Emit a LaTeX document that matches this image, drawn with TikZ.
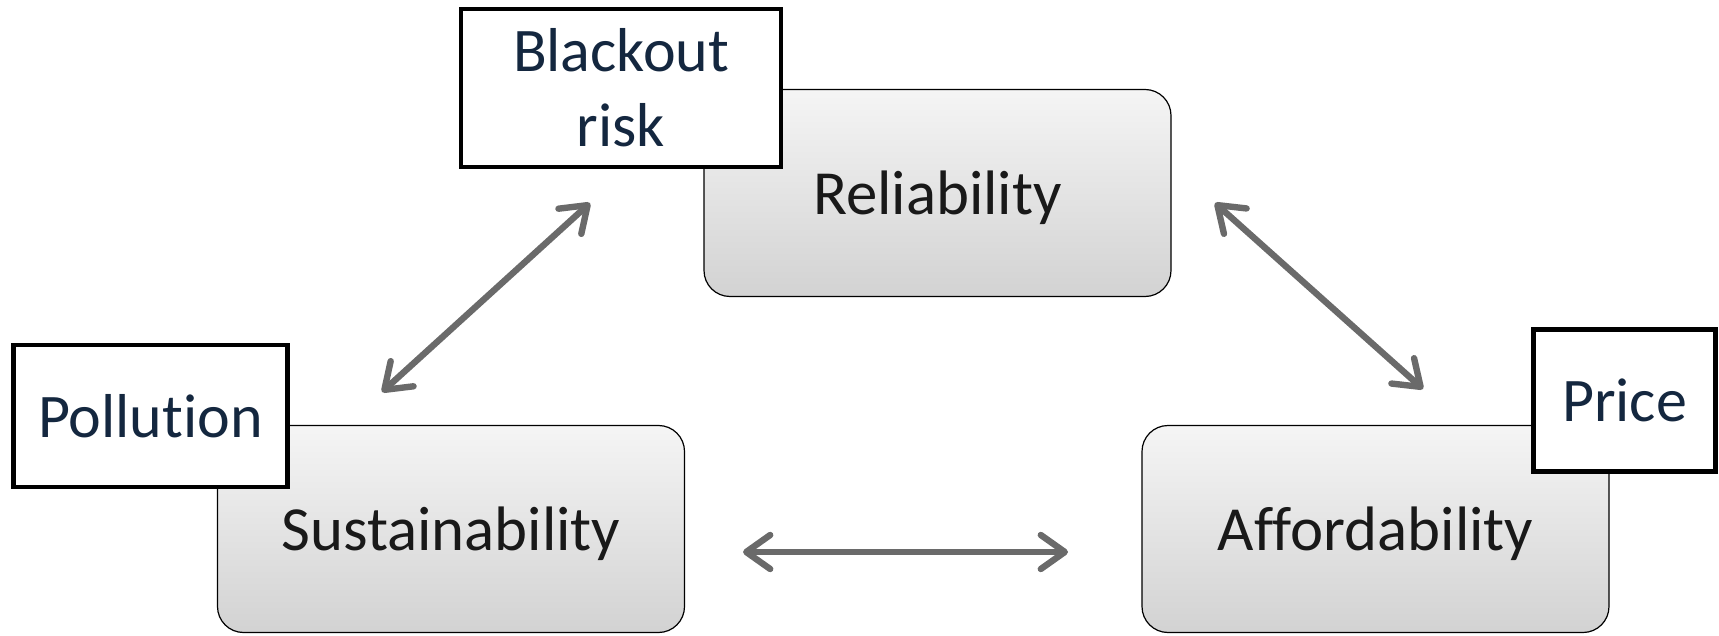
\documentclass[tikz,border=0pt]{standalone}
\usepackage{fontspec}
\setmainfont{Carlito}[Ligatures=NoCommon]
\usetikzlibrary{arrows.meta}
\definecolor{labelnavy}{HTML}{14273F}
\definecolor{arrowgray}{HTML}{6A6A6A}
\begin{document}
\begin{tikzpicture}[x=0.5pt,y=-0.5pt,
    goal/.style={draw=black, line width=0.6pt, rounded corners=13pt, top color=gray!8, bottom color=gray!35, minimum width=233.5pt, minimum height=103.5pt, text depth=0pt, font=\fontsize{31.4}{37}\selectfont, text=black!90},
    tag/.style={draw=black, line width=2.4pt, fill=white, align=center, font=\fontsize{31}{37.5}\selectfont, text=labelnavy},
    tradeoff/.style={arrowgray, line width=3.2pt, line cap=round, {Straight Barb[length=12pt,width=17pt,round]}-{Straight Barb[length=12pt,width=17pt,round]}}]
    \useasboundingbox (0,0) rectangle (1719,636);
    % goals
    \node[goal] at (937.5, 193) (reliability) {Reliability};
    \node[goal] at (451, 529) (sustainability) {Sustainability};
    \node[goal] at (1375.5, 529) (affordability) {Affordability};
    % measures
    \node[tag, minimum width=160pt, minimum height=79pt] at (621, 88) (blackout) {Blackout\\risk};
    \node[tag, minimum width=137pt, minimum height=71pt] at (150.5, 416) (pollution) {Pollution};
    \node[tag, minimum width=91pt, minimum height=71pt] at (1624.5, 400.5) (price) {Price};
    % trade-offs
    \coordinate (sr-a) at (382, 392);
    \coordinate (sr-b) at (590, 203);
    \coordinate (ra-a) at (1215, 203);
    \coordinate (ra-b) at (1423, 389);
    \coordinate (sa-a) at (743, 552);
    \coordinate (sa-b) at (1068, 552);
    \draw[tradeoff] (sr-a) -- (sr-b);
    \draw[tradeoff] (ra-a) -- (ra-b);
    \draw[tradeoff] (sa-a) -- (sa-b);
\end{tikzpicture}
\end{document}
